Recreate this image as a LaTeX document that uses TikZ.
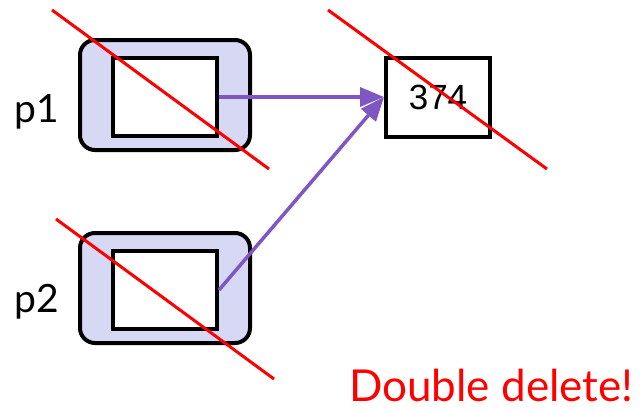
\documentclass[tikz,border=0pt]{standalone}
\usepackage{fontspec}
\setmainfont{Lato}
\newfontfamily\valfont{Liberation Sans}
\usetikzlibrary{arrows.meta}
\definecolor{ptrfill}{HTML}{D7D8F4}
\definecolor{ptrline}{HTML}{7E57C2}
\definecolor{crossred}{HTML}{FF0000}
\begin{document}
\begin{tikzpicture}[x=1pt,y=-1pt,
  holder/.style={draw=black,line width=4pt,fill=ptrfill,rounded corners=15pt,
    minimum width=170pt,minimum height=110pt,inner sep=0pt},
  cell/.style={draw=black,line width=4pt,fill=white,
    minimum width=104pt,minimum height=78pt,inner sep=0pt},
  valbox/.style={draw=black,line width=4pt,fill=white,
    minimum width=104pt,minimum height=79pt,inner sep=0pt,
    font=\valfont\fontsize{35}{40}\selectfont},
  lbl/.style={anchor=base west,inner sep=0pt,font=\fontsize{39}{44}\selectfont},
  ptr/.style={draw=ptrline,line width=3.5pt,-{Triangle[length=24pt,width=19pt]}},
  cross/.style={draw=crossred,line width=3pt}]
\useasboundingbox (0,0) rectangle (640,410);

% pointer p1
\node[holder] (p1box) at (165,95) {};
\node[cell] (p1cell) at (165,97) {};
\node[lbl] (p1lbl) at (14,122) {p1};

% pointer p2
\node[holder] (p2box) at (165,288) {};
\node[cell] (p2cell) at (165,290) {};
\node[lbl] (p2lbl) at (14,312) {p2};

% heap value
\node[valbox] (val) at (438,97) {374};

% pointers into the heap value
\draw[ptr] (p1cell.east) -- (val.west);
\draw[ptr] (p2cell.east) -- (val.west);

% crossed-out objects
\coordinate (c1a) at (52,10);  \coordinate (c1b) at (269,169);
\coordinate (c2a) at (56,219); \coordinate (c2b) at (274,379);
\coordinate (c3a) at (328,10); \coordinate (c3b) at (547,169);
\draw[cross] (c1a) -- (c1b);
\draw[cross] (c2a) -- (c2b);
\draw[cross] (c3a) -- (c3b);

\node[anchor=base west,inner sep=0pt,text=crossred,font=\fontsize{44}{50}\selectfont]
  (msg) at (349,401) {Double delete!};
\end{tikzpicture}
\end{document}
